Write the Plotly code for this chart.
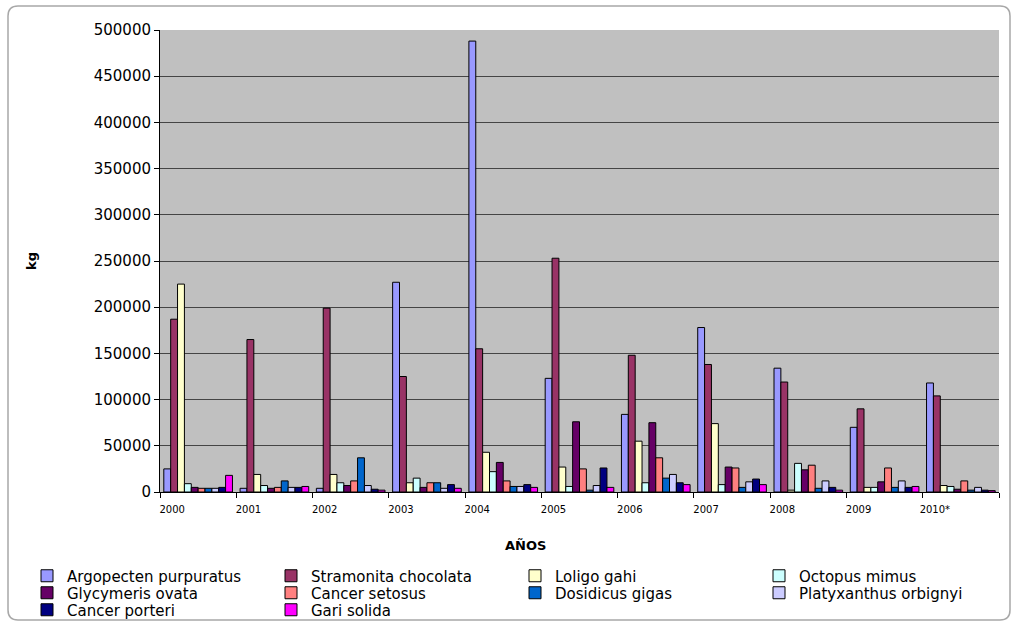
import plotly.graph_objects as go

years = ["2000", "2001", "2002", "2003", "2004", "2005", "2006", "2007", "2008", "2009", "2010*"]

argopecten = [25000, 4000, 4000, 227000, 488000, 123000, 84000, 178000, 134000, 70000, 118000]
stramonita = [187000, 165000, 199000, 125000, 155000, 253000, 148000, 138000, 119000, 90000, 104000]
loligo = [225000, 19000, 19000, 10000, 43000, 27000, 55000, 74000, 2000, 5000, 7000]
octopus = [9000, 7000, 10000, 15000, 22000, 6000, 10000, 8000, 31000, 5000, 6000]
glycymeris = [5000, 4000, 7000, 5000, 32000, 76000, 75000, 27000, 24000, 11000, 3000]
cancer_setosus = [4000, 5000, 12000, 10000, 12000, 25000, 37000, 26000, 29000, 26000, 12000]
dosidicus = [4000, 12000, 37000, 10000, 6000, 2000, 15000, 5000, 4000, 5000, 2000]
platyxanthus = [4000, 5000, 7000, 4000, 6000, 7000, 19000, 11000, 12000, 12000, 5000]
cancer_porteri = [5000, 5000, 3000, 8000, 8000, 26000, 10000, 14000, 5000, 5000, 2000]
gari = [18000, 6000, 2000, 4000, 5000, 5000, 8000, 8000, 2000, 6000, 1500]

series = [
    ("Argopecten purpuratus", argopecten, "#9999FF"),
    ("Stramonita chocolata", stramonita, "#993366"),
    ("Loligo gahi", loligo, "#FFFFCC"),
    ("Octopus mimus", octopus, "#CCFFFF"),
    ("Glycymeris ovata", glycymeris, "#660066"),
    ("Cancer setosus", cancer_setosus, "#FF8080"),
    ("Dosidicus gigas", dosidicus, "#0066CC"),
    ("Platyxanthus orbignyi", platyxanthus, "#CCCCFF"),
    ("Cancer porteri", cancer_porteri, "#000080"),
    ("Gari solida", gari, "#FF00FF"),
]

FONT = "DejaVu Sans"
LEGEND_ROWS = ["legend", "legend2", "legend3"]

fig = go.Figure()
for i, (name, vals, col) in enumerate(series):
    fig.add_trace(go.Bar(
        x=years, y=vals, name=name,
        legend=LEGEND_ROWS[i // 4],
        marker=dict(color=col, line=dict(color="#000000", width=1)),
    ))

W, H = 1017, 625
L, R, T, B = 160, 18, 30, 133
pw, ph = W - L - R, H - T - B


def px_x(p):
    return (p - L) / pw


def px_y(p):
    return (H - B - p) / ph


x0, x1, y0, y1 = px_x(8), px_x(1010), px_y(620), px_y(6)
rx, ry = 10 / pw, 10 / ph
frame = (f"M{x0+rx},{y1} L{x1-rx},{y1} Q{x1},{y1} {x1},{y1-ry} "
         f"L{x1},{y0+ry} Q{x1},{y0} {x1-rx},{y0} L{x0+rx},{y0} "
         f"Q{x0},{y0} {x0},{y0+ry} L{x0},{y1-ry} Q{x0},{y1} {x0+rx},{y1} Z")


def row_legend(center_px):
    return dict(
        orientation="h",
        x=px_x(27), xanchor="left",
        y=px_y(center_px), yanchor="middle",
        entrywidth=199, entrywidthmode="pixels",
        font=dict(family=FONT, size=15, color="#000000"),
        bgcolor="rgba(0,0,0,0)",
        traceorder="normal",
    )


fig.update_layout(
    width=W, height=H,
    margin=dict(l=L, r=R, t=T, b=B, autoexpand=False),
    paper_bgcolor="white",
    plot_bgcolor="#C0C0C0",
    font=dict(family=FONT, color="#000000"),
    barmode="group",
    bargap=0.1,
    bargroupgap=0,
    showlegend=True,
    legend=row_legend(576),
    legend2=row_legend(593),
    legend3=row_legend(610),
    shapes=[dict(type="path", path=frame, xref="paper", yref="paper",
                 line=dict(color="#A8A8A8", width=1.5), layer="below")],
    annotations=[dict(text="<b>AÑOS</b>", xref="paper", yref="paper",
                      x=px_x(525), y=px_y(545), xanchor="center", yanchor="middle",
                      showarrow=False,
                      font=dict(family=FONT, size=13, color="#000000"))],
)

fig.update_xaxes(
    type="category",
    tickson="boundaries",
    ticks="outside", ticklen=5, tickcolor="#000000",
    showline=True, linecolor="#000000", linewidth=1,
    showgrid=False,
    tickfont=dict(family=FONT, size=10, color="#000000"),
    ticklabelshift=-26,
    ticklabelstandoff=8,
)

fig.update_yaxes(
    range=[0, 500000], dtick=50000, tickformat="d",
    ticks="outside", ticklen=5, tickcolor="#000000",
    showline=True, linecolor="#000000", linewidth=1,
    showgrid=True, gridcolor="#454545", gridwidth=1,
    zeroline=False,
    tickfont=dict(family=FONT, size=15, color="#000000"),
    title=dict(text="<b>kg</b>", font=dict(family=FONT, size=13), standoff=54),
)

fig.write_html("out.html", config={"displayModeBar": False},
               post_script="document.body.style.margin='0px';")
